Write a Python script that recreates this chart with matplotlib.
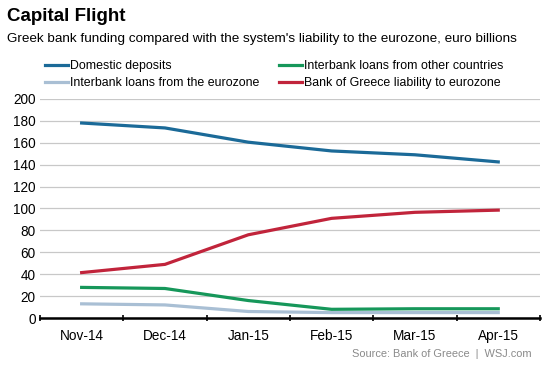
import matplotlib.pyplot as plt
import numpy as np

plt.rcParams["font.family"] = ["Liberation Sans", "DejaVu Sans"]

months = ["Nov-14", "Dec-14", "Jan-15", "Feb-15", "Mar-15", "Apr-15"]
domestic = [178, 173.5, 160.5, 152.5, 149, 142.5]
interbank_euro = [13, 12, 6, 5, 5, 5]
interbank_other = [28, 27, 16, 8, 8.5, 8.5]
bog_liability = [41.5, 49, 76, 91, 96.5, 98.5]
yticks = np.arange(0, 201, 20)

fig = plt.figure(figsize=(5.53, 3.69), dpi=100)
ax = fig.add_axes([0.0723, 0.138, 0.904, 0.594])

x = np.arange(len(months))
ax.plot(x, domestic, color="#1b6a98", lw=2.3, label="Domestic deposits")
ax.plot(x, interbank_euro, color="#a9bfd4", lw=2.3, label="Interbank loans from the eurozone")
ax.plot(x, interbank_other, color="#16975a", lw=2.3, label="Interbank loans from other countries")
ax.plot(x, bog_liability, color="#c1243b", lw=2.3, label="Bank of Greece liability to eurozone")

ax.set_xlim(-0.5, len(months) - 0.5)
ax.set_ylim(0, 200)
ax.set_yticks(yticks)
ax.set_xticks(x)
ax.set_xticklabels(months)
ax.set_xticks(np.arange(-0.5, len(months), 1), minor=True)
ax.tick_params(axis="x", which="major", length=0, labelsize=9.8, pad=8)
ax.tick_params(axis="x", which="minor", length=5, width=1.2, direction="inout")
ax.tick_params(axis="y", length=0, labelsize=9.8, pad=3)
ax.yaxis.grid(True, color="#c8c8c8", lw=0.9)
ax.set_axisbelow(True)
for s in ["top", "right", "left"]:
    ax.spines[s].set_visible(False)
ax.spines["bottom"].set_linewidth(1.8)
ax.spines["bottom"].set_color("black")

fig.legend(loc="upper left", bbox_to_anchor=(0.072, 0.85), ncol=2, frameon=False,
           fontsize=8.9, handlelength=1.9, handletextpad=0.15, columnspacing=1.55,
           labelspacing=0.42, borderaxespad=0)

fig.text(0.013, 0.978, "Capital Flight", fontsize=13.5, fontweight="bold", va="top")
fig.text(0.013, 0.91, "Greek bank funding compared with the system's liability to the eurozone, euro billions",
         fontsize=9.7, va="top")
fig.text(0.962, 0.04, "Source: Bank of Greece  |  WSJ.com", fontsize=7.9, color="#8a8a8a",
         ha="right", va="center")

fig.savefig("out.png", dpi=100)
